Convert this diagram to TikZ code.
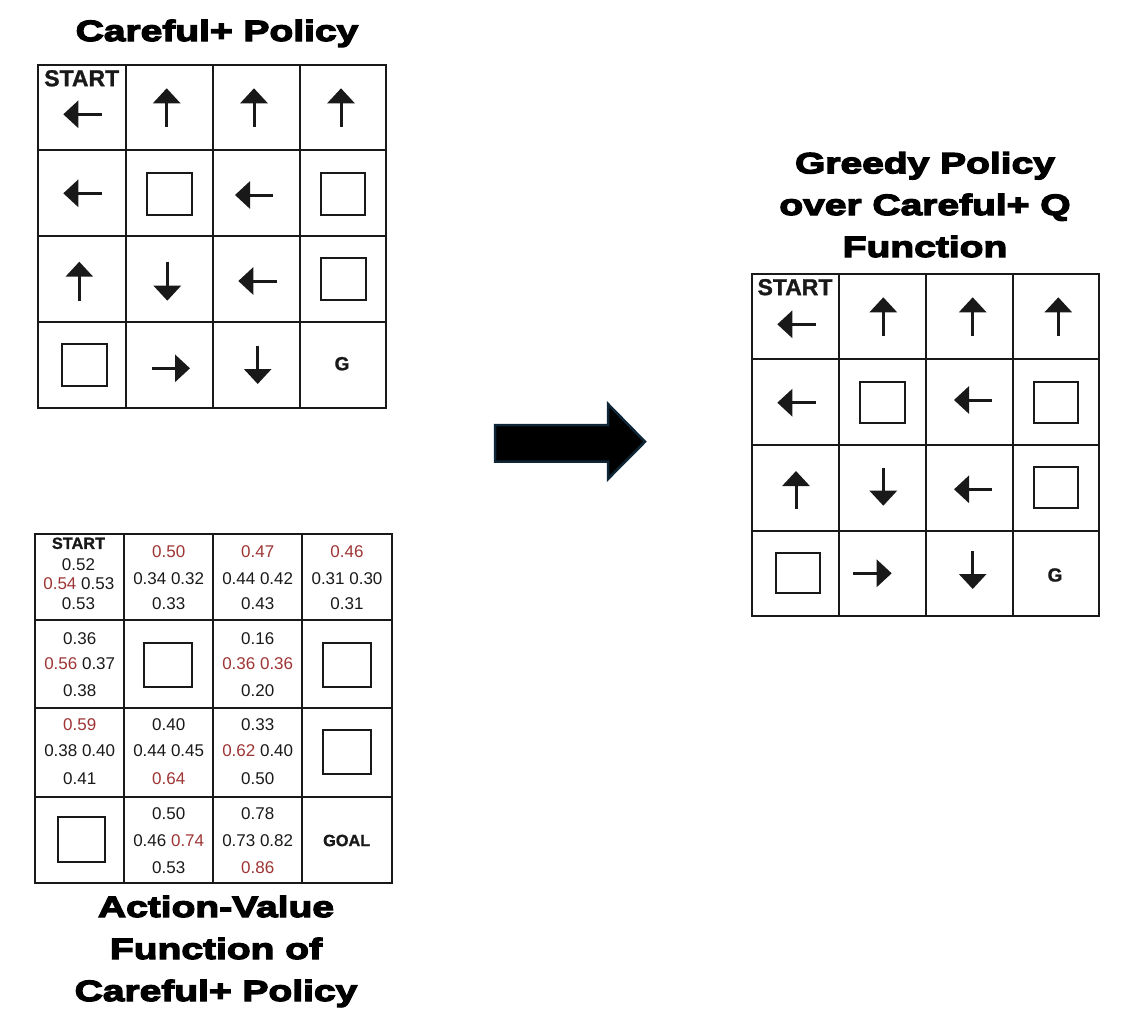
\documentclass[tikz,border=0pt]{standalone}
\usepackage{fontspec}
\setmainfont{Liberation Sans}
\newfontfamily\blackfont[FakeBold=4.5,FakeStretch=1.33]{Liberation Sans Bold}
\newfontfamily\lblfont[FakeBold=1.2]{Liberation Sans Bold}
\usetikzlibrary{arrows.meta}
\definecolor{qred}{RGB}{158,52,52}
\definecolor{ink}{RGB}{25,25,25}
\definecolor{navy}{RGB}{14,38,54}
\newcommand{\rd}[1]{\textcolor{qred}{#1}}
\begin{document}
\begin{tikzpicture}[x=1pt,y=-1pt,
  gridline/.style={draw=ink,line width=2pt},
  wall/.style={draw=ink,line width=2pt},
  parrow/.style={draw=ink,line width=3pt,-{Triangle[length=15pt,width=27pt]}},
  title/.style={font=\blackfont\fontsize{29.3}{35}\selectfont,anchor=base,inner sep=0pt},
  startlbl/.style={font=\lblfont\fontsize{23}{27}\selectfont,inner sep=0pt,text=ink},
  glbl/.style={font=\lblfont\fontsize{19}{22}\selectfont,inner sep=0pt,text=ink},
  qv/.style={font=\fontsize{17}{20}\selectfont,inner sep=0pt,text=ink},
  qlbl/.style={font=\lblfont\fontsize{16.3}{19}\selectfont,inner sep=0pt,text=ink},
  bigarrow/.style={fill=black,draw=navy,line width=2.5pt,line join=miter}
]
\useasboundingbox (0,0) rectangle (1127,1029);

% ---------- Titles ----------
\node[title] (t1) at (217,41) {Careful+ Policy};
\node[title] (t2a) at (925,173.3) {Greedy Policy};
\node[title] (t2b) at (925,215) {over Careful+ Q};
\node[title] (t2c) at (925,257) {Function};
\node[title] (t3a) at (216,917) {Action-Value};
\node[title] (t3b) at (216,959) {Function of};
\node[title] (t3c) at (216,1001) {Careful+ Policy};

% ---------- Grid 1: Careful+ Policy ----------
\foreach \x in {126,212.7,300} \draw[gridline] (\x,65) -- (\x,408);
\foreach \y in {150,236,322.3} \draw[gridline] (38.3,\y) -- (386,\y);
\draw[gridline] (38.3,65) rectangle (386,408);
\node[startlbl] (g1start) at (81.7,78.3) {START};
\draw[parrow] (101.7,114.3) -- (63.3,114.3);
\draw[parrow] (166.7,126.7) -- (166.7,88.3);
\draw[parrow] (254,126.7) -- (254,88.3);
\draw[parrow] (341,126.7) -- (341,88.3);
\draw[parrow] (101.7,193.3) -- (63.3,193.3);
\draw[wall] (146.7,172.7) rectangle (191.7,215);
\draw[parrow] (273.3,195) -- (235,195);
\draw[wall] (320.7,172.7) rectangle (365,215);
\draw[parrow] (79.3,300.7) -- (79.3,261.7);
\draw[parrow] (167.3,261.7) -- (167.3,300.7);
\draw[parrow] (277.3,281) -- (238.3,281);
\draw[wall] (320.7,257.7) rectangle (365.7,300);
\draw[wall] (61.7,344) rectangle (106.7,385.7);
\draw[parrow] (151.7,368.3) -- (190,368.3);
\draw[parrow] (257.7,345.7) -- (257.7,384);
\node[glbl] (g1goal) at (342,363.7) {G};

% ---------- Grid 3: Greedy policy ----------
\foreach \x in {839,926,1013} \draw[gridline] (\x,274) -- (\x,616);
\foreach \y in {359.3,445,530.7} \draw[gridline] (752.3,\y) -- (1099.3,\y);
\draw[gridline] (752.3,274) rectangle (1099.3,616);
\node[startlbl] (g3start) at (795,287.2) {START};
\draw[parrow] (815.7,324.3) -- (777.3,324.3);
\draw[parrow] (883.3,336) -- (883.3,297.3);
\draw[parrow] (972.7,336) -- (972.7,297.3);
\draw[parrow] (1058.3,336) -- (1058.3,297.3);
\draw[parrow] (815.7,402.7) -- (777.3,402.7);
\draw[wall] (860,381.7) rectangle (905,423.3);
\draw[parrow] (992.3,400) -- (954,400);
\draw[wall] (1034,381.7) rectangle (1078.3,423.3);
\draw[parrow] (796,509.3) -- (796,471);
\draw[parrow] (883.3,467.7) -- (883.3,505.7);
\draw[parrow] (992.3,489.3) -- (954,489.3);
\draw[wall] (1034,466.7) rectangle (1078.3,507.7);
\draw[wall] (775.7,552.7) rectangle (820,593.3);
\draw[parrow] (853.3,573.3) -- (891.7,573.3);
\draw[parrow] (972.7,551) -- (972.7,589);
\node[glbl] (g3goal) at (1055,575) {G};

% ---------- Grid 2: Action-value function ----------
\foreach \x in {124.3,213,302.3} \draw[gridline] (\x,534) -- (\x,883.3);
\foreach \y in {620,707.7,796.7} \draw[gridline] (35,\y) -- (391.7,\y);
\draw[gridline] (35,534) rectangle (391.7,883.3);

% row 0
\node[qlbl] (q00s) at (78.5,543.3) {START};
\node[qv] (q00t) at (78.5,565) {0.52};
\node[qv] (q00m) at (78.8,584) {\rd{0.54} 0.53};
\node[qv] (q00b) at (78.5,604) {0.53};
\node[qv] (q01t) at (168.7,551.7) {\rd{0.50}};
\node[qv] (q01m) at (168.7,578.3) {0.34 0.32};
\node[qv] (q01b) at (168.7,604) {0.33};
\node[qv] (q02t) at (257.7,551.7) {\rd{0.47}};
\node[qv] (q02m) at (257.7,578.3) {0.44 0.42};
\node[qv] (q02b) at (257.7,604) {0.43};
\node[qv] (q03t) at (347,551.7) {\rd{0.46}};
\node[qv] (q03m) at (347,578.3) {0.31 0.30};
\node[qv] (q03b) at (347,604) {0.31};
% row 1
\node[qv] (q10t) at (79.7,638.3) {0.36};
\node[qv] (q10m) at (79.7,664) {\rd{0.56} 0.37};
\node[qv] (q10b) at (79.7,691) {0.38};
\draw[wall] (144.3,642.7) rectangle (192.3,687.3);
\node[qv] (q12t) at (257.7,638.3) {0.16};
\node[qv] (q12m) at (257.7,664) {\rd{0.36} \rd{0.36}};
\node[qv] (q12b) at (257.7,691) {0.20};
\draw[wall] (322.7,643.3) rectangle (370.7,687.3);
% row 2
\node[qv] (q20t) at (79.7,725) {\rd{0.59}};
\node[qv] (q20m) at (79.7,751) {0.38 0.40};
\node[qv] (q20b) at (79.7,778.3) {0.41};
\node[qv] (q21t) at (168.7,725) {0.40};
\node[qv] (q21m) at (168.7,751) {0.44 0.45};
\node[qv] (q21b) at (168.7,778.3) {\rd{0.64}};
\node[qv] (q22t) at (257.7,725) {0.33};
\node[qv] (q22m) at (257.7,751) {\rd{0.62} 0.40};
\node[qv] (q22b) at (257.7,778.3) {0.50};
\draw[wall] (323.3,730) rectangle (371,774.3);
% row 3
\draw[wall] (57.7,817.3) rectangle (105.3,861.7);
\node[qv] (q31t) at (168.7,813.3) {0.50};
\node[qv] (q31m) at (168.7,840.7) {0.46 \rd{0.74}};
\node[qv] (q31b) at (168.7,867.3) {0.53};
\node[qv] (q32t) at (257.7,813.3) {0.78};
\node[qv] (q32m) at (257.7,840.7) {0.73 0.82};
\node[qv] (q32b) at (257.7,867.3) {\rd{0.86}};
\node[qlbl] (q33g) at (346.7,840.5) {GOAL};

% ---------- Big arrow ----------
\draw[bigarrow] (495,425) -- (608,425) -- (608,404) -- (645,441.7)
  -- (608,479) -- (608,461.7) -- (495,461.7) -- cycle;
\end{tikzpicture}
\end{document}
